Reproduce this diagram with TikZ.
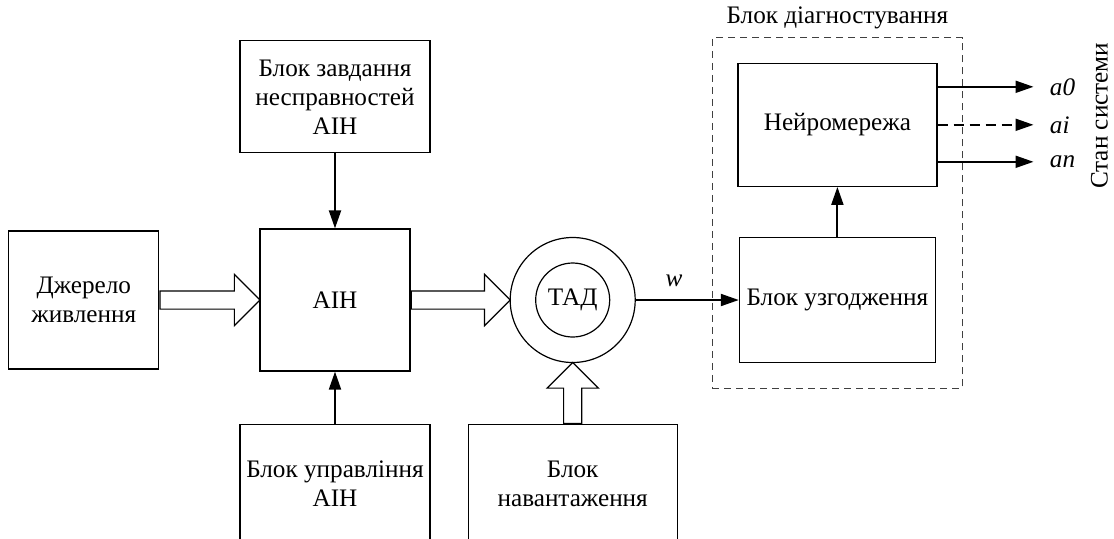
\documentclass[tikz,border=0pt]{standalone}
\usepackage{fontspec}
\setmainfont{Liberation Serif}
\usetikzlibrary{positioning,arrows,arrows.meta,shapes,shapes.arrows}
\usetikzlibrary{calc,fit}
\tikzstyle{blk}=[rectangle, draw=black, line width=0.6pt, align=center,
                 font=\fontsize{12.6}{14.5}\selectfont, inner sep=2pt]
\tikzstyle{sbox}=[blk, minimum width=75pt]
\tikzstyle{wbox}=[blk, minimum width=95pt]
\tikzstyle{dbox}=[blk, minimum width=98pt, minimum height=62.5pt]
\tikzstyle{motor}=[circle, draw=black, line width=0.6pt,
                   font=\fontsize{12.6}{14.5}\selectfont, inner sep=0pt]
\tikzstyle{fatarrow}=[single arrow, draw=black, line width=0.6pt, fill=white,
                      inner sep=0pt, text height=8.5pt, text depth=0pt,
                      single arrow head extend=8.25pt, single arrow tip angle=90]
\tikzstyle{pline}=[-{Triangle[length=9pt,width=6pt]}, line width=1pt]
\tikzstyle{dline}=[pline, dash pattern=on 5pt off 3pt]
\tikzstyle{frame}=[draw=black!75, line width=0.6pt, dash pattern=on 3.5pt off 2.5pt,
                   inner sep=12.5pt]
\tikzstyle{lbl}=[font=\fontsize{12.6}{14.5}\selectfont, inner sep=0pt]

\begin{document}
\begin{tikzpicture}[node distance=0mm]

\useasboundingbox (-167.5pt,-119pt) rectangle (389.5pt,150pt);
\clip (-167.5pt,-119pt) rectangle (389.5pt,150pt);

\node (AIH) [sbox, minimum height=71pt] {АІН};
\node (PWR) [sbox, minimum height=69pt,
left=50pt of AIH] {Джерело\\живлення};
\node (FLT) [wbox, minimum height=56pt,
above=37.5pt of AIH] {Блок завдання\\несправностей\\АІН};
\node (CTL) [wbox, minimum height=59.5pt,
below=26pt of AIH] {Блок управління\\АІН};
\node (TAD) [motor, minimum size=62.5pt,
right=49.5pt of AIH] {};
\node (TADin) [motor, minimum size=37pt] at (TAD) {ТАД};
\node (LOAD) [blk, minimum width=104.5pt, minimum height=59.5pt,
below=30.5pt of TAD] {Блок\\навантаження};
\node (UZG) [dbox,
right=51.5pt of TAD] {Блок узгодження};
\node (NN) [dbox, minimum width=99.5pt, minimum height=61.5pt,
above=25pt of UZG] {Нейромережа};
\node (DIAG) [frame, fit=(NN)(UZG)] {};
\node (DIAGlbl) [lbl, above=4pt of DIAG] {Блок діагностування};
\node (A0) [lbl, right=56pt of NN.east, yshift=19pt] {\textit{a0}};
\node (AI) [lbl, right=56pt of NN.east] {\textit{ai}};
\node (AN) [lbl, right=56pt of NN.east, yshift=-18.5pt] {\textit{an}};
\node (STATE) [lbl, rotate=90] at ($(NN.east)+(81pt,4.5pt)$) {Стан системи};

% power flow
\node (ARR1) [fatarrow, minimum height=50pt, anchor=tail] at (PWR.east) {};
\node (ARR2) [fatarrow, minimum height=49.5pt, anchor=tail] at (AIH.east) {};
\node (ARR3) [fatarrow, minimum height=30.5pt, rotate=90, anchor=tail] at (LOAD.north) {};

% signals
 \draw[pline]   (FLT.south) -- (AIH.north) ;
 \draw[pline]   (CTL.north) -- (AIH.south) ;
 \draw[pline]   (TAD.east) -- node[lbl, pos=0.37, above=6pt] {\textit{w}} (UZG.west) ;
 \draw[pline]   (UZG.north) -- (NN.south) ;
 \draw[pline]   (NN.east |- A0.west) -- ([xshift=-8pt]A0.west) ;
 \draw[dline]   (NN.east |- AI.west) -- ([xshift=-8pt]AI.west) ;
 \draw[pline]   (NN.east |- AN.west) -- ([xshift=-8pt]AN.west) ;

\end{tikzpicture}
\end{document}
